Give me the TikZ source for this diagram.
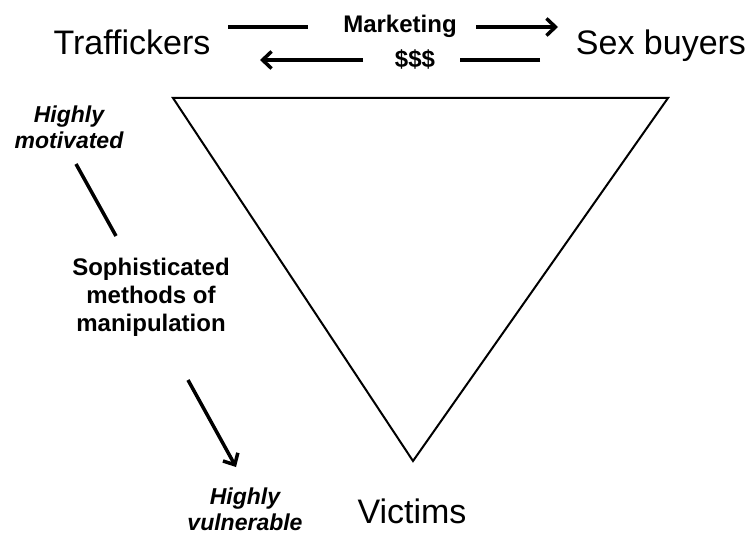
\documentclass[tikz,border=0pt]{standalone}
\usepackage{fontspec}
\setmainfont{Liberation Sans}
\usetikzlibrary{arrows.meta}

\begin{document}
\begin{tikzpicture}[x=1pt,y=-1pt,
    party/.style={font=\fontsize{34}{40}\selectfont, inner sep=0pt, anchor=base},
    note/.style={font=\bfseries\fontsize{24}{28}\selectfont, align=center, inner sep=0pt},
    trait/.style={font=\bfseries\itshape\fontsize{23}{26}\selectfont, align=center, inner sep=0pt},
    flow/.style={line width=3.5pt, -{Straight Barb[length=9pt,width=17pt]}},
    bar/.style={line width=3.5pt}]
    \useasboundingbox (0,0) rectangle (753,535);
    % the three parties
    \node[party] (traf) at (132,55) {Traffickers};
    \node[party] (buyer) at (661,55) {Sex buyers};
    \node[party] (victim) at (412,523) {Victims};
    % exchange between traffickers and buyers
    \node[note, anchor=base] (market) at (400,33) {Marketing};
    \node[note, anchor=base] (money) at (415,67) {\$\$\$};
    \coordinate (m1) at (228,27);
    \coordinate (m2) at (308,27);
    \coordinate (m3) at (476,27);
    \coordinate (m4) at (558,27);
    \coordinate (d1) at (540,60);
    \coordinate (d2) at (460,60);
    \coordinate (d3) at (363,60);
    \coordinate (d4) at (260,60);
    \draw[bar] (m1) -- (m2);
    \draw[flow] (m3) -- (m4);
    \draw[bar] (d1) -- (d2);
    \draw[flow] (d3) -- (d4);
    % triangle
    \coordinate (tl) at (173,98);
    \coordinate (tr) at (668,98);
    \coordinate (tb) at (413,461);
    \draw[line width=2pt, line join=miter] (tl) -- (tr) -- (tb) -- cycle;
    % left side
    \node[trait] (motiv) at (69,127) {Highly\\motivated};
    \node[note] (method) at (151,297) {Sophisticated\\methods of\\manipulation};
    \node[trait] (vuln) at (245,509) {Highly\\vulnerable};
    \coordinate (s1) at (76,164);
    \coordinate (s2) at (116,236);
    \coordinate (s3) at (188,380);
    \coordinate (s4) at (236,467);
    \draw[bar] (s1) -- (s2);
    \draw[flow] (s3) -- (s4);
\end{tikzpicture}
\end{document}
